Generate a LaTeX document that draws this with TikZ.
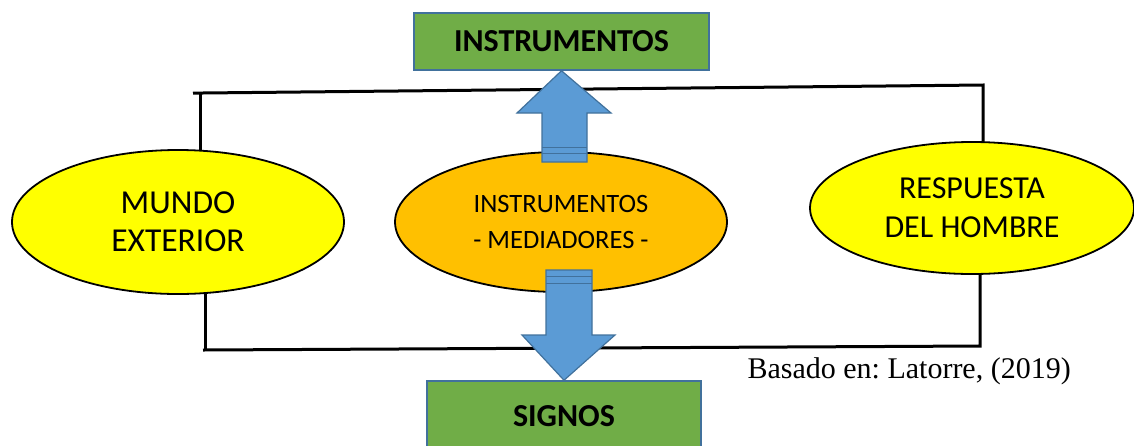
\documentclass[tikz,border=0pt]{standalone}
\usepackage{fontspec}
\setmainfont{Carlito}
\newfontfamily\timesfont{Liberation Serif}
\usetikzlibrary{shapes.geometric}
\definecolor{boxgreen}{HTML}{70AD47}
\definecolor{boxedge}{HTML}{41719C}
\definecolor{arrowblue}{HTML}{5B9BD5}
\definecolor{ellyellow}{HTML}{FFFF00}
\definecolor{ellorange}{HTML}{FFC000}
\frenchspacing
\begin{document}
\begin{tikzpicture}[x=1pt,y=-1pt,
  greenbox/.style={draw=boxedge,line width=1.5pt,fill=boxgreen,inner sep=0pt,
    font=\fontsize{32}{36}\selectfont\bfseries},
  ellnode/.style={ellipse,draw=black,line width=1.8pt,inner sep=0pt,align=center},
  frameline/.style={draw=black,line width=3pt},
  bigarrow/.style={draw=boxedge,line width=1.2pt,fill=arrowblue,line join=miter},
  stripe/.style={draw=boxedge,line width=1pt}]
\useasboundingbox (0,0) rectangle (1134,445);
% frame lines
\coordinate (tl) at (200,93);
\coordinate (tr) at (983,85);
\coordinate (bl) at (205,350);
\coordinate (br) at (980,346);
\draw[frameline] (193,93.1) -- (tr) -- (983,150);
\draw[frameline] (tl) -- (200,160);
\draw[frameline] (203,350) -- (br) -- (980,260);
\draw[frameline] (205,280) -- (bl);
% ellipses
\node[ellnode,fill=ellyellow,minimum width=332pt,minimum height=144pt,
  font=\fontsize{33.5}{38}\selectfont] (L) at (178,222) {MUNDO\\EXTERIOR};
\node[ellnode,fill=ellorange,minimum width=332pt,minimum height=140pt,
  font=\fontsize{26.5}{36}\selectfont] (M) at (561,222) {INSTRUMENTOS\\- MEDIADORES -};
\node[ellnode,fill=ellyellow,minimum width=324pt,minimum height=132pt,
  font=\fontsize{32}{39}\selectfont] (R) at (972,208) {\raisebox{-4pt}{RESPUESTA}\\\raisebox{-4pt}{DEL HOMBRE}};
% boxes
\node[greenbox,minimum width=295pt,minimum height=57pt] (top) at (561.5,41.5) {\raisebox{-4pt}{INSTRUMENTOS}};
\node[greenbox,minimum width=274pt,minimum height=70pt] (bot) at (564,416) {SIGNOS};
% up arrow
\coordinate (ut) at (top.south);
\draw[bigarrow] (ut) -- (611,113) -- (587,113) -- (587,162) -- (542,162) -- (542,113) -- (517,113) -- cycle;
\draw[stripe] (542,147) -- (587,147);
\draw[stripe] (542,153) -- (587,153);
% down arrow
\coordinate (dt) at (bot.north);
\draw[bigarrow] (dt) -- (615,335) -- (592,335) -- (592,270) -- (546,270) -- (546,335) -- (522,335) -- cycle;
\draw[stripe] (546,276) -- (592,276);
\draw[stripe] (546,283) -- (592,283);
% source note
\node[anchor=west,font=\timesfont\fontsize{30}{32}\selectfont] (src) at (744,371) {Basado en: Latorre, (2019)};
\end{tikzpicture}
\end{document}
